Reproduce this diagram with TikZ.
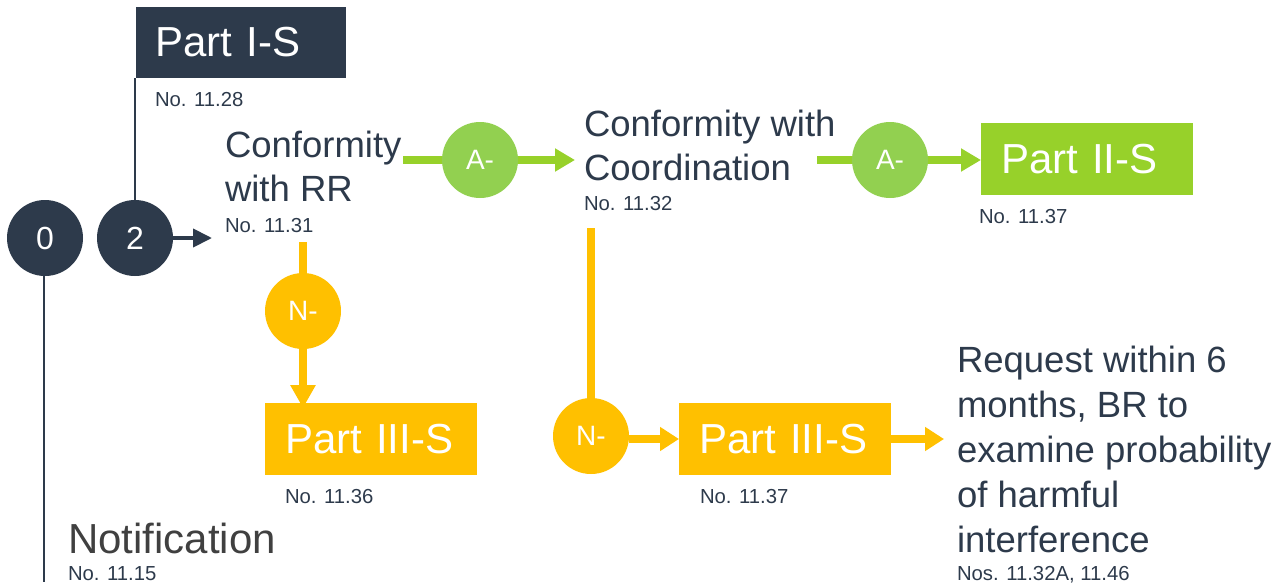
\documentclass[tikz,border=0pt]{standalone}
\usepackage{fontspec}
\setmainfont{Liberation Sans}
\usetikzlibrary{arrows.meta}
\definecolor{navy}{HTML}{2D3A4B}
\definecolor{grnbox}{HTML}{97D12A}
\definecolor{grnc}{HTML}{92D050}
\definecolor{yel}{HTML}{FFC000}
\definecolor{greytxt}{HTML}{404040}
\begin{document}
\begin{tikzpicture}[x=1pt,y=-1pt,
  every node/.style={inner sep=0pt, outer sep=0pt},
  circ/.style={circle, minimum size=76pt, text=white, font=\fontsize{32}{32}\selectfont},
  letc/.style={circ, font=\fontsize{28}{28}\selectfont},
  box/.style={rectangle, anchor=north west, minimum height=72pt, text width=172pt, inner xsep=20pt, align=left, text=white, font=\fontsize{42}{42}\selectfont},
  big/.style={text=navy, align=left, anchor=base west, font=\fontsize{36.5}{44}\selectfont},
  small/.style={text=navy, anchor=base west, font=\fontsize{20.3}{21}\selectfont},
  gline/.style={draw=grnbox, line width=8pt},
  garrow/.style={gline, -{Triangle[length=20pt,width=22pt]}},
  yline/.style={draw=yel, line width=8pt},
  yarrow/.style={yline, -{Triangle[length=19pt,width=23pt]}},
  nline/.style={draw=navy, line width=2pt}
]
\useasboundingbox (0,0) rectangle (1282,586);

% text and box nodes (multi-line nodes: base = last line baseline)
\node[box, fill=navy, minimum height=71pt, text width=171pt, inner xsep=19.5pt] (p1) at (136,7) {Part I-S};
\node[small] (n28) at (155,106) {No. 11.28};
\node[big] (crr) at (225,201) {Conformity\\with RR};
\node[small] (n31) at (225,232) {No. 11.31};
\node[big] (ccoord) at (584,180) {Conformity with\\Coordination};
\node[small] (n32) at (584,210) {No. 11.32};
\node[box, fill=grnbox] (p2) at (981,123) {Part II-S};
\node[small] (n37a) at (979,223) {No. 11.37};
\node[box, fill=yel] (p3a) at (265,403) {Part III-S};
\node[small] (n36) at (285,503) {No. 11.36};
\node[box, fill=yel] (p3b) at (679,403) {Part III-S};
\node[small] (n37b) at (700,503) {No. 11.37};
\node[big, font=\fontsize{36.5}{45}\selectfont] (req) at (957,552) {Request within 6\\months, BR to\\examine probability\\of harmful\\interference};
\node[small] (n46) at (957,580) {Nos. 11.32A, 11.46};
\node[big, text=greytxt, font=\fontsize{42}{42}\selectfont] (notif) at (68,553) {Notification};
\node[small] (n15) at (68,580) {No. 11.15};

% free ends
\coordinate (g1s) at (403,160);
\coordinate (g2s) at (817,160);
\coordinate (y1s) at (303,242);
\coordinate (y2s) at (591,228);
\coordinate (t2) at (212,238);
\coordinate (e0) at (44,582);
\coordinate (treq) at (944,439);

% connectors (under circles)
\draw[nline] (135,238) -- (135,78);
\draw[nline] (44,238) -- (e0);
\draw[gline] (g1s) -- (480,160);
\draw[gline] (g2s) -- (890,160);
\draw[yline] (y1s) -- (303,311);
\draw[yline] (y2s) -- (591,436);

% circles
\node[circ, fill=navy] (c0) at (45,238) {0};
\node[circ, fill=navy] (c2) at (135,238) {2};
\node[letc, fill=grnc] (a1) at (480,160) {A-};
\node[letc, fill=grnc] (a2) at (890,160) {A-};
\node[letc, fill=yel] (y1) at (303,311) {N-};
\node[letc, fill=yel] (y2) at (591,436) {N-};

% arrows
\draw[navy, line width=4pt, -{Triangle[length=19pt,width=18pt]}] (c2.east) -- (t2);
\draw[garrow] (a1.east) -- (575,160);
\draw[garrow] (a2.east) -- (a2.east -| p2.west);
\draw[yline, -{Triangle[length=23pt,width=24pt]}] (y1.south) -- ([yshift=-5pt]y1.south |- p3a.north);
\draw[yarrow] (p3b.west -| y2.east) -- (p3b.west);
\draw[yarrow] (p3b.east) -- (treq);
\end{tikzpicture}
\end{document}
